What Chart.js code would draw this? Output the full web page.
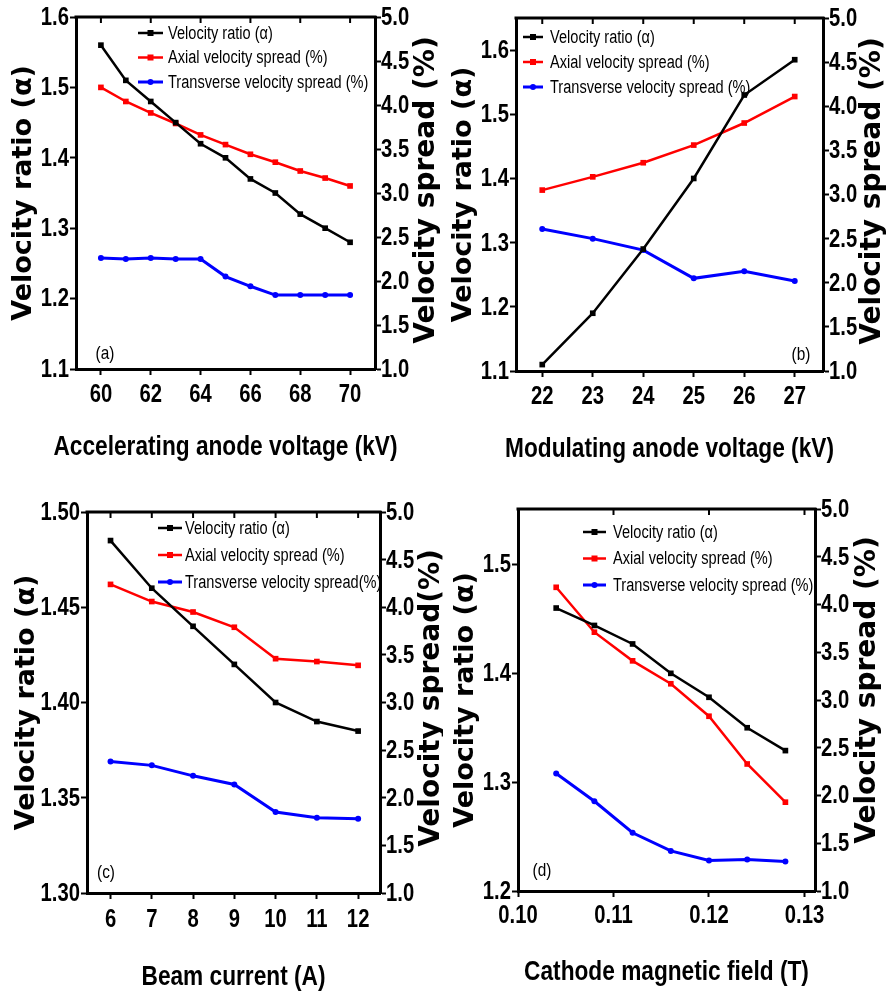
<!DOCTYPE html>
<html>
<head>
<meta charset="utf-8">
<script src="https://cdn.jsdelivr.net/npm/chart.js@4.4.1/dist/chart.umd.min.js"></script>
<style>
  body { margin: 0; background: #fff; }
  #wrap { position: relative; width: 886px; height: 996px; background: #fff; }
  canvas { position: absolute; }
</style>
</head>
<body>
<div id="wrap">
  <canvas id="panel-a" width="443" height="480" style="left:0;top:0"></canvas>
  <canvas id="panel-b" width="443" height="480" style="left:443px;top:0"></canvas>
  <canvas id="panel-c" width="443" height="516" style="left:0;top:480px"></canvas>
  <canvas id="panel-d" width="443" height="516" style="left:443px;top:480px"></canvas>
</div>
<script>
// (a) accelerating anode voltage
const accVoltage = [60, 61, 62, 63, 64, 65, 66, 67, 68, 69, 70];
const accAlpha = [1.56, 1.51, 1.48, 1.45, 1.42, 1.40, 1.37, 1.35, 1.32, 1.30, 1.28];
const accAxial = [4.20, 4.04, 3.91, 3.79, 3.66, 3.55, 3.44, 3.35, 3.25, 3.17, 3.08];
const accTrans = [2.26, 2.25, 2.26, 2.25, 2.25, 2.05, 1.94, 1.84, 1.84, 1.84, 1.84];

// (b) modulating anode voltage
const modVoltage = [22, 23, 24, 25, 26, 27];
const modAlpha = [1.11, 1.19, 1.29, 1.40, 1.53, 1.585];
const modAxial = [3.05, 3.20, 3.36, 3.56, 3.81, 4.11];
const modTrans = [2.61, 2.50, 2.37, 2.05, 2.13, 2.02];

// (c) beam current
const beamCurrent = [6, 7, 8, 9, 10, 11, 12];
const beamAlpha = [1.485, 1.46, 1.44, 1.42, 1.40, 1.39, 1.385];
const beamAxial = [4.24, 4.06, 3.95, 3.79, 3.46, 3.43, 3.39];
const beamTrans = [2.38, 2.34, 2.23, 2.14, 1.85, 1.79, 1.78];

// (d) cathode magnetic field
const cathodeField = [0.104, 0.108, 0.112, 0.116, 0.120, 0.124, 0.128];
const fieldAlpha = [1.46, 1.444, 1.427, 1.40, 1.378, 1.35, 1.329];
const fieldAxial = [4.18, 3.71, 3.41, 3.17, 2.83, 2.33, 1.93];
const fieldTrans = [2.23, 1.94, 1.61, 1.42, 1.32, 1.33, 1.31];

// tick labels
const accTicks = [60, 62, 64, 66, 68, 70];
const modTicks = [22, 23, 24, 25, 26, 27];
const beamTicks = [6, 7, 8, 9, 10, 11, 12];
const fieldTicks = [0.10, 0.11, 0.12, 0.13];
const alphaTicksAB = [1.1, 1.2, 1.3, 1.4, 1.5, 1.6];
const alphaTicksC = [1.30, 1.35, 1.40, 1.45, 1.50];
const alphaTicksD = [1.2, 1.3, 1.4, 1.5];
const spreadTicks = [1.0, 1.5, 2.0, 2.5, 3.0, 3.5, 4.0, 4.5, 5.0];

const legendLabels = ['Velocity ratio (\u03b1)', 'Axial velocity spread (%)', 'Transverse velocity spread (%)'];
const legendLabelsC = ['Velocity ratio (\u03b1)', 'Axial velocity spread (%)', 'Transverse velocity spread(%)'];

const sans = "'Liberation Sans', Arial, sans-serif";
const heavy = "'DejaVu Sans', Verdana, sans-serif";
const squeeze = 0.81;   // no condensed font installed, so squash Liberation Sans

function toPoints(xs, ys) {
    return xs.map((x, i) => ({ x: x, y: ys[i] }));
}

function fixedTicks(values) {
    return scale => { scale.ticks = values.map(v => ({ value: v })); };
}

function narrowText(ctx, text, x, y, font, align) {
    ctx.save();
    ctx.font = font;
    ctx.textAlign = align;
    ctx.textBaseline = 'middle';
    ctx.translate(x, y);
    ctx.scale(squeeze, 1);
    ctx.fillText(text, 0, 0);
    ctx.restore();
}

function rotatedText(ctx, text, x, y, font) {
    ctx.save();
    ctx.font = font;
    ctx.textAlign = 'center';
    ctx.textBaseline = 'middle';
    ctx.translate(x, y);
    ctx.rotate(-Math.PI / 2);
    ctx.fillText(text, 0, 0);
    ctx.restore();
}

// frame top, tick labels, titles, panel letter and legend
const panelDecor = {
    id: 'panelDecor',
    afterDraw(chart, args, opts) {
        const ctx = chart.ctx;
        const area = chart.chartArea;
        const { x: xScale, y: yScale, y1: rScale } = chart.scales;
        ctx.save();
        ctx.strokeStyle = '#000';
        ctx.fillStyle = '#000';
        ctx.lineWidth = 3;
        ctx.beginPath();
        ctx.moveTo(area.left - 1.5, area.top);
        ctx.lineTo(area.right + 1.5, area.top);
        ctx.stroke();
        ctx.lineWidth = 2;
        xScale.ticks.forEach(t => {
            const px = xScale.getPixelForValue(t.value);
            ctx.beginPath();
            ctx.moveTo(px, area.top);
            ctx.lineTo(px, area.top + 6);
            ctx.stroke();
        });

        const tickFont = 'bold 25px ' + sans;
        xScale.ticks.forEach(t => {
            narrowText(ctx, t.value.toFixed(opts.xDec), xScale.getPixelForValue(t.value), area.bottom + opts.xLabelGap, tickFont, 'center');
        });
        yScale.ticks.forEach(t => {
            narrowText(ctx, t.value.toFixed(opts.yDec), area.left - 7, yScale.getPixelForValue(t.value) + 1, tickFont, 'right');
        });
        rScale.ticks.forEach(t => {
            narrowText(ctx, t.value.toFixed(1), area.right + 6, rScale.getPixelForValue(t.value) + 1, tickFont, 'left');
        });

        narrowText(ctx, opts.xTitle.text, (area.left + area.right) / 2, opts.xTitle.y, 'bold 28px ' + sans, 'center');
        rotatedText(ctx, 'Velocity ratio (\u03b1)', opts.leftTitleX, (area.top + area.bottom) / 2, 'bold 27px ' + heavy);
        rotatedText(ctx, opts.rightTitle.text, opts.rightTitle.x, opts.rightTitle.y, 'bold 28px ' + heavy);

        narrowText(ctx, opts.tag.text, opts.tag.x, opts.tag.y, '19px ' + sans, 'center');

        const lg = opts.legend;
        chart.data.datasets.forEach((ds, i) => {
            const y = lg.y + i * lg.gap;
            ctx.strokeStyle = ds.borderColor;
            ctx.lineWidth = ds.borderWidth;
            ctx.beginPath();
            ctx.moveTo(lg.x, y);
            ctx.lineTo(lg.x + lg.len, y);
            ctx.stroke();
            ctx.fillStyle = ds.borderColor;
            const cx = lg.x + lg.len / 2;
            if (ds.pointStyle === 'rect') {
                ctx.fillRect(cx - 3, y - 3, 6, 6);
            } else {
                ctx.beginPath();
                ctx.arc(cx, y, 3, 0, Math.PI * 2);
                ctx.fill();
            }
            ctx.fillStyle = '#000';
            narrowText(ctx, ds.label, lg.x + lg.len + lg.pad, y + 1, '18px ' + sans, 'left');
        });
        ctx.restore();
    }
};

function axisStyle(extra) {
    return Object.assign({
        type: 'linear',
        grid: { drawOnChartArea: false, drawTicks: true, tickLength: 6, tickWidth: 2, tickColor: '#000' },
        border: { display: true, color: '#000', width: 3 },
        ticks: { display: false, autoSkip: false }
    }, extra);
}

function makePanel(id, p) {
    const datasets = [
        { label: p.labels[0], data: toPoints(p.x, p.alpha), yAxisID: 'y', borderColor: '#000000', backgroundColor: '#000000', borderWidth: 2.5, pointStyle: 'rect', pointRadius: 4 },
        { label: p.labels[1], data: toPoints(p.x, p.axial), yAxisID: 'y1', borderColor: '#ff0000', backgroundColor: '#ff0000', borderWidth: 2.5, pointStyle: 'rect', pointRadius: 4 },
        { label: p.labels[2], data: toPoints(p.x, p.trans), yAxisID: 'y1', borderColor: '#0000ff', backgroundColor: '#0000ff', borderWidth: 3, pointStyle: 'circle', pointRadius: 3 }
    ];
    datasets.forEach(ds => { ds.pointBorderWidth = 0; ds.tension = 0; });

    new Chart(document.getElementById(id), {
        type: 'line',
        data: { datasets },
        options: {
            responsive: false,
            animation: false,
            events: [],
            layout: { padding: { top: p.box.top, left: 0, right: 0, bottom: 0 } },
            plugins: {
                legend: { display: false },
                tooltip: { enabled: false },
                panelDecor: {
                    xDec: p.xDec, yDec: p.yDec, xLabelGap: p.xLabelGap,
                    xTitle: p.xTitle, leftTitleX: p.leftTitleX, rightTitle: p.rightTitle,
                    tag: p.tag, legend: p.legend
                }
            },
            scales: {
                x: axisStyle({
                    position: 'bottom', min: p.xMin, max: p.xMax,
                    afterBuildTicks: fixedTicks(p.xTicks),
                    afterFit: s => { s.height = p.box.bottom; }
                }),
                y: axisStyle({
                    position: 'left', min: p.yMin, max: p.yMax,
                    afterBuildTicks: fixedTicks(p.yTicks),
                    afterFit: s => { s.width = p.box.left; }
                }),
                y1: axisStyle({
                    position: 'right', min: 1, max: 5,
                    afterBuildTicks: fixedTicks(spreadTicks),
                    afterFit: s => { s.width = p.box.right; }
                })
            }
        },
        plugins: [panelDecor]
    });
}

makePanel('panel-a', {
    x: accVoltage, alpha: accAlpha, axial: accAxial, trans: accTrans, labels: legendLabels,
    xMin: 59, xMax: 71, xTicks: accTicks, xDec: 0, xLabelGap: 26,
    yMin: 1.1, yMax: 1.6, yTicks: alphaTicksAB, yDec: 1,
    box: { top: 17, left: 76, right: 68, bottom: 111 },
    xTitle: { text: 'Accelerating anode voltage (kV)', y: 447 },
    leftTitleX: 24,
    rightTitle: { text: 'Velocity spread (%)', x: 427, y: 190 },
    tag: { text: '(a)', x: 105, y: 354 },
    legend: { x: 138, y: 33, gap: 24.5, len: 25, pad: 5 }
});

makePanel('panel-b', {
    x: modVoltage, alpha: modAlpha, axial: modAxial, trans: modTrans, labels: legendLabels,
    xMin: 21.48, xMax: 27.56, xTicks: modTicks, xDec: 0, xLabelGap: 26,
    yMin: 1.1, yMax: 1.65, yTicks: alphaTicksAB, yDec: 1,
    box: { top: 18, left: 73, right: 63, bottom: 109 },
    xTitle: { text: 'Modulating anode voltage (kV)', y: 449 },
    leftTitleX: 21,
    rightTitle: { text: 'Velocity spread (%)', x: 430, y: 191 },
    tag: { text: '(b)', x: 358, y: 355 },
    legend: { x: 80, y: 37, gap: 25, len: 20, pad: 7 }
});

makePanel('panel-c', {
    x: beamCurrent, alpha: beamAlpha, axial: beamAxial, trans: beamTrans, labels: legendLabelsC,
    xMin: 5.43, xMax: 12.53, xTicks: beamTicks, xDec: 0, xLabelGap: 27,
    yMin: 1.3, yMax: 1.5, yTicks: alphaTicksC, yDec: 2,
    box: { top: 32, left: 87, right: 63, bottom: 103 },
    xTitle: { text: 'Beam current (A)', y: 497 },
    leftTitleX: 27,
    rightTitle: { text: 'Velocity spread(%)', x: 432, y: 218 },
    tag: { text: '(c)', x: 106, y: 393 },
    legend: { x: 158, y: 48, gap: 27, len: 24, pad: 3 }
});

makePanel('panel-d', {
    x: cathodeField, alpha: fieldAlpha, axial: fieldAxial, trans: fieldTrans, labels: legendLabels,
    xMin: 0.10, xMax: 0.1311, xTicks: fieldTicks, xDec: 2, xLabelGap: 25,
    yMin: 1.2, yMax: 1.551, yTicks: alphaTicksD, yDec: 1,
    box: { top: 29, left: 75, right: 71, bottom: 105 },
    xTitle: { text: 'Cathode magnetic field (T)', y: 492 },
    leftTitleX: 23,
    rightTitle: { text: 'Velocity spread (%)', x: 425, y: 210 },
    tag: { text: '(d)', x: 99, y: 391 },
    legend: { x: 140, y: 52, gap: 26.5, len: 23, pad: 7 }
});
</script>
</body>
</html>
